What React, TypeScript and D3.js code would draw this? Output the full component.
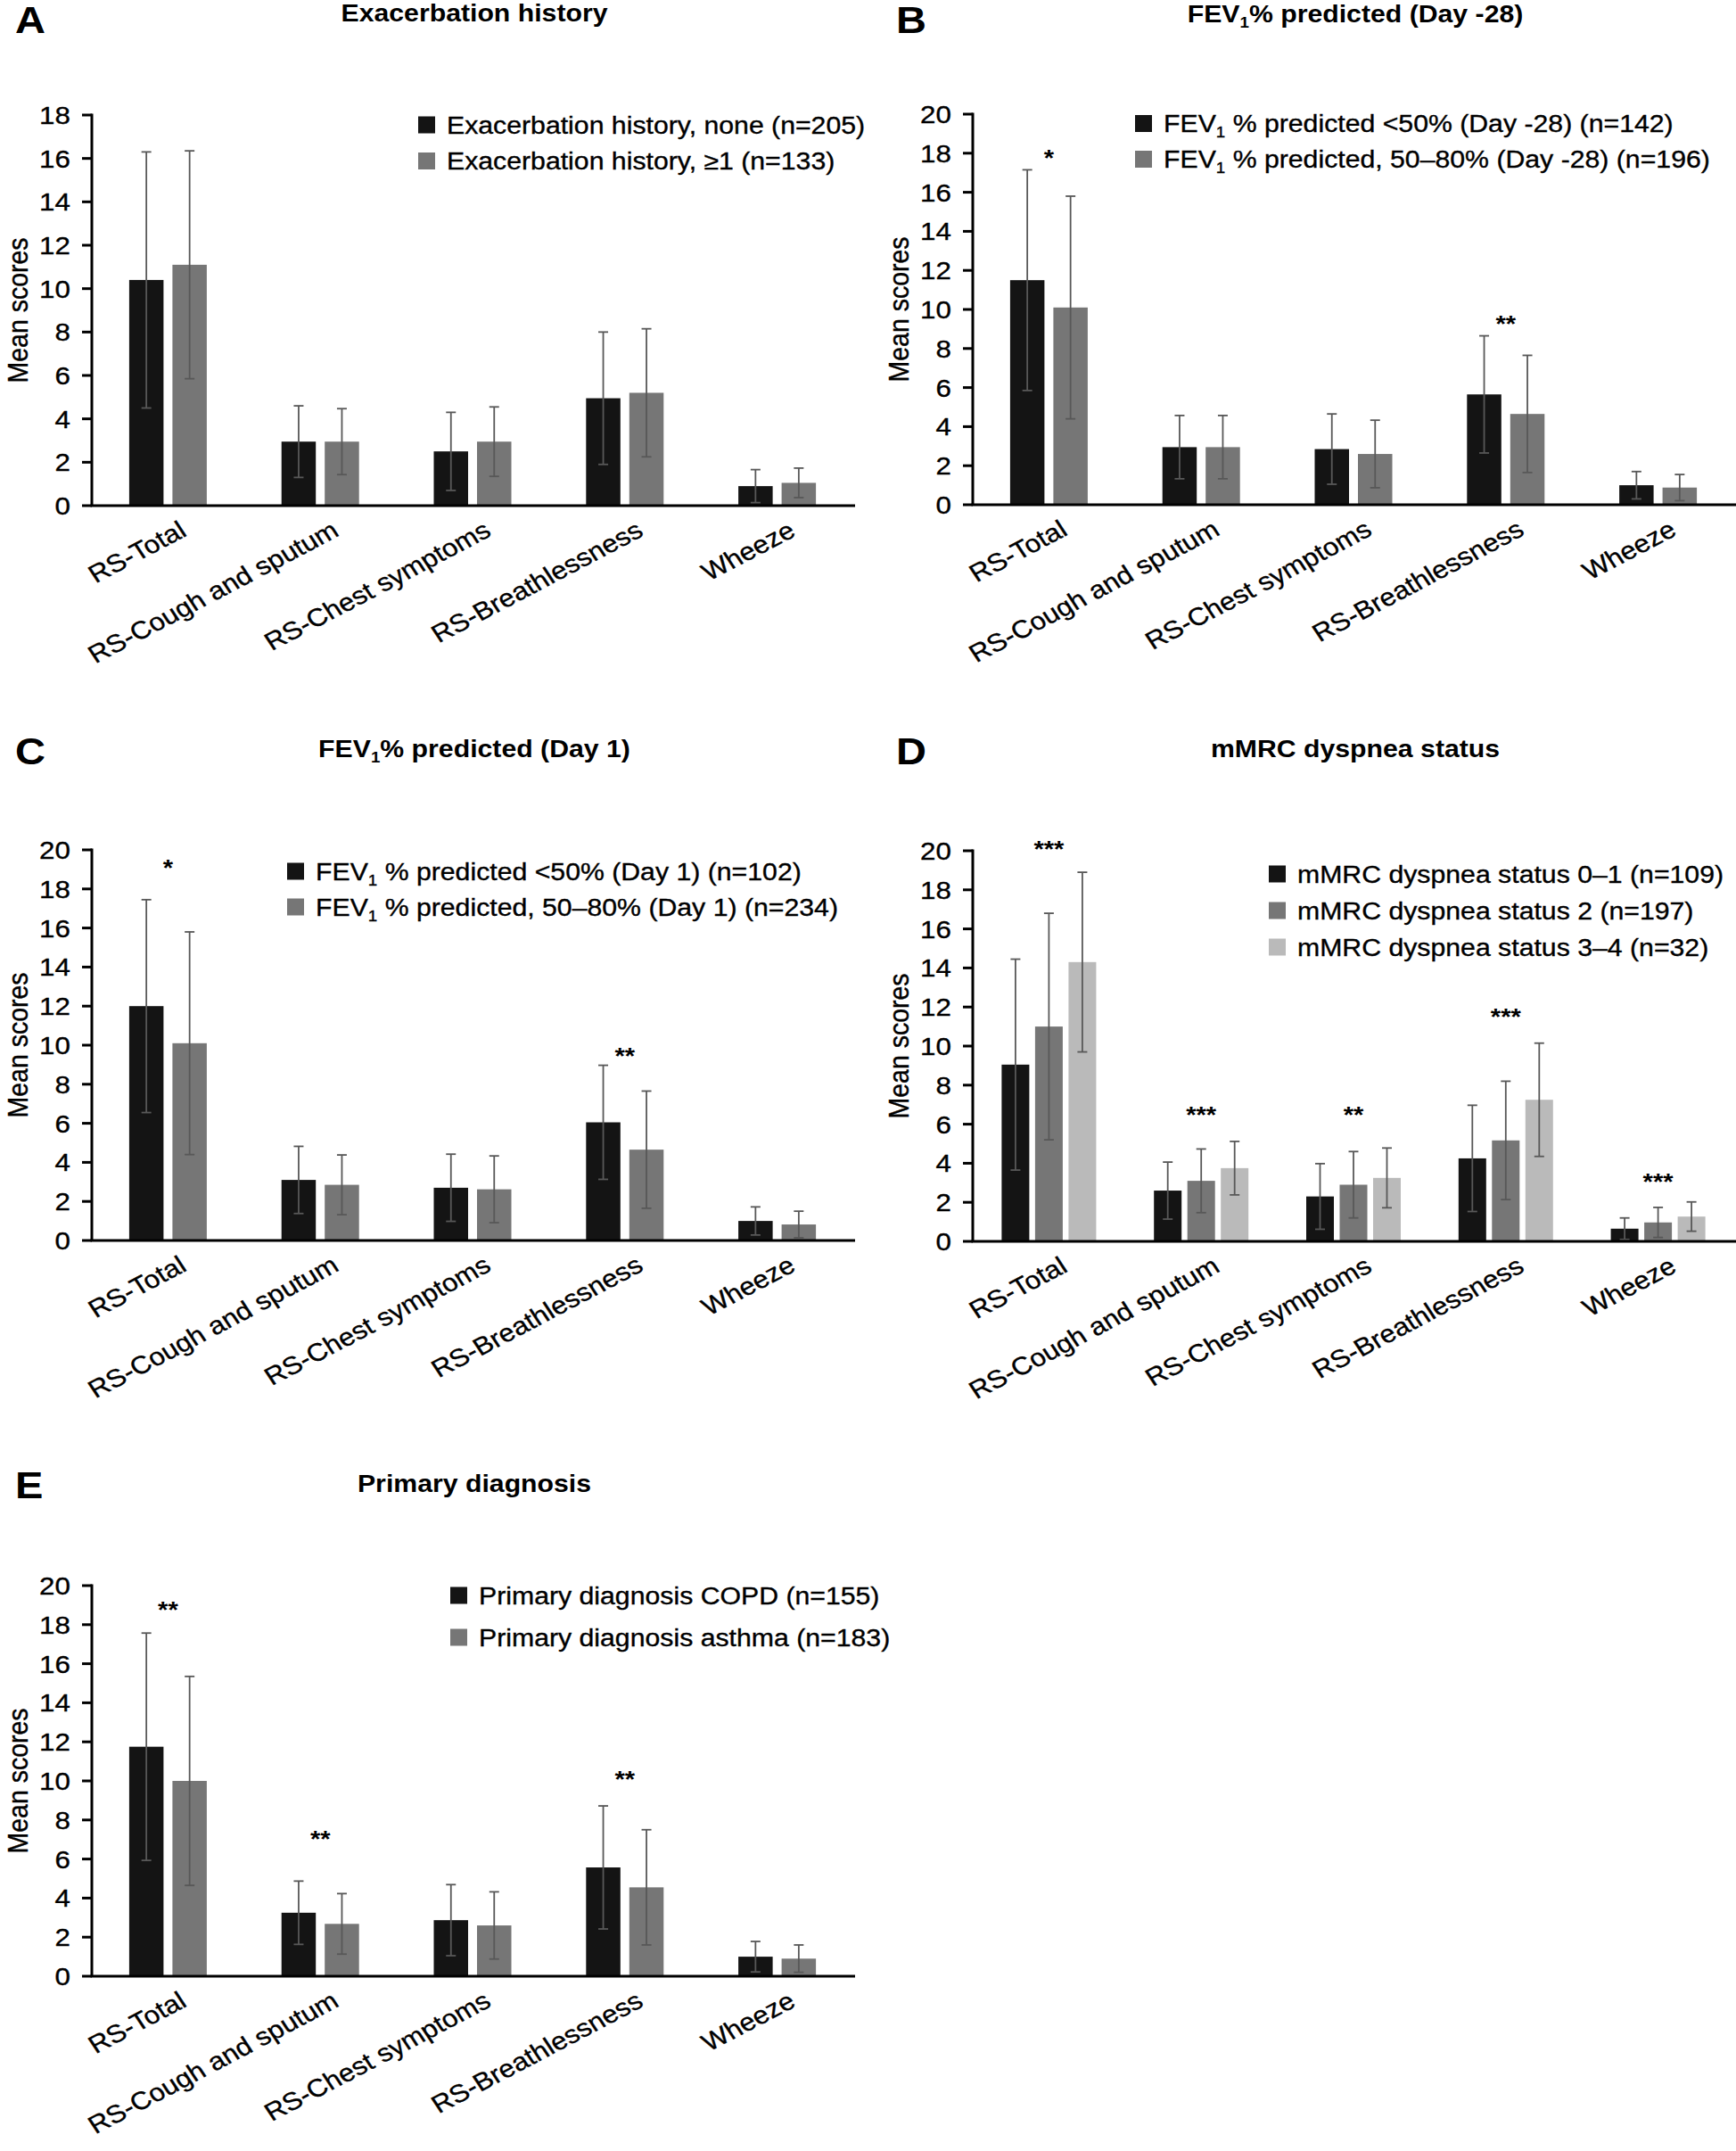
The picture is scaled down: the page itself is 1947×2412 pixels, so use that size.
import React, { useEffect } from 'react'
import * as d3 from 'd3'

const categories = ['RS-Total', 'RS-Cough and sputum', 'RS-Chest symptoms', 'RS-Breathlessness', 'Wheeze']

// A - exacerbation history
const exacNoneMean = [10.4, 2.95, 2.5, 4.95, 0.9]
const exacNoneSd = [5.9, 1.65, 1.8, 3.05, 0.76]
const exacOneMean = [11.1, 2.95, 2.95, 5.2, 1.05]
const exacOneSd = [5.25, 1.52, 1.6, 2.95, 0.68]

// B - FEV1 % predicted (Day -28)
const fevD28LowMean = [11.5, 2.95, 2.85, 5.65, 1.0]
const fevD28LowSd = [5.65, 1.62, 1.8, 3.0, 0.7]
const fevD28MidMean = [10.1, 2.95, 2.6, 4.65, 0.88]
const fevD28MidSd = [5.7, 1.62, 1.73, 3.0, 0.67]
const fevD28Sig = ['*', '', '', '**', '']
const fevD28SigLevel = [18.0, 0, 0, 9.5, 0]

// C - FEV1 % predicted (Day 1)
const fevD1LowMean = [12.0, 3.1, 2.7, 6.05, 1.0]
const fevD1LowSd = [5.45, 1.72, 1.72, 2.92, 0.72]
const fevD1MidMean = [10.1, 2.85, 2.62, 4.65, 0.82]
const fevD1MidSd = [5.7, 1.53, 1.71, 3.0, 0.68]
const fevD1Sig = ['*', '', '', '**', '']
const fevD1SigLevel = [19.3, 0, 0, 9.7, 0]

// D - mMRC dyspnea status
const mmrc01Mean = [9.05, 2.6, 2.3, 4.25, 0.65]
const mmrc01Sd = [5.4, 1.46, 1.68, 2.72, 0.55]
const mmrc2Mean = [11.0, 3.1, 2.9, 5.17, 0.97]
const mmrc2Sd = [5.8, 1.63, 1.7, 3.03, 0.77]
const mmrc34Mean = [14.3, 3.75, 3.25, 7.25, 1.27]
const mmrc34Sd = [4.6, 1.37, 1.53, 2.9, 0.75]
const mmrcSig = ['***', '***', '**', '***', '***']
const mmrcSigLevel = [20.3, 6.73, 6.73, 11.75, 3.27]

// E - primary diagnosis
const copdMean = [11.75, 3.25, 2.87, 5.57, 1.0]
const copdSd = [5.82, 1.62, 1.82, 3.15, 0.78]
const asthmaMean = [10.0, 2.68, 2.6, 4.55, 0.9]
const asthmaSd = [5.35, 1.55, 1.72, 2.95, 0.7]
const diagSig = ['**', '**', '', '**', '']
const diagSigLevel = [19.0, 7.28, 0, 10.3, 0]

const colors = ['#141414', '#767676', '#bababa']

const FONT = "'Liberation Sans', Arial, Helvetica, sans-serif"
const K = 1.12 // horizontal stretch of the source lettering

interface Series { label: string; mean: number[]; sd: number[] }
interface PanelSpec {
  letter: string
  title: string
  yMax: number
  series: Series[]
  sig?: string[]
  sigLevel?: number[]
  x0: number
  yZero: number
  titleY: number
  letterY: number
  legendX: number
  legendY: number
  legendGap: number
}

const panels: PanelSpec[] = [
  {
    letter: 'A', title: 'Exacerbation history', yMax: 18,
    series: [
      { label: 'Exacerbation history, none (n=205)', mean: exacNoneMean, sd: exacNoneSd },
      { label: 'Exacerbation history, \u22651 (n=133)', mean: exacOneMean, sd: exacOneSd },
    ],
    x0: 103, yZero: 567, titleY: 24, letterY: 37, legendX: 469, legendY: 140, legendGap: 40.5,
  },
  {
    letter: 'B', title: 'FEV\u2081% predicted (Day -28)', yMax: 20,
    series: [
      { label: 'FEV\u2081 % predicted <50% (Day -28) (n=142)', mean: fevD28LowMean, sd: fevD28LowSd },
      { label: 'FEV\u2081 % predicted, 50\u201380% (Day -28) (n=196)', mean: fevD28MidMean, sd: fevD28MidSd },
    ],
    sig: fevD28Sig, sigLevel: fevD28SigLevel,
    x0: 1091, yZero: 566, titleY: 25, letterY: 37, legendX: 1273, legendY: 138.5, legendGap: 40,
  },
  {
    letter: 'C', title: 'FEV\u2081% predicted (Day 1)', yMax: 20,
    series: [
      { label: 'FEV\u2081 % predicted <50% (Day 1) (n=102)', mean: fevD1LowMean, sd: fevD1LowSd },
      { label: 'FEV\u2081 % predicted, 50\u201380% (Day 1) (n=234)', mean: fevD1MidMean, sd: fevD1MidSd },
    ],
    sig: fevD1Sig, sigLevel: fevD1SigLevel,
    x0: 103, yZero: 1391, titleY: 849, letterY: 857, legendX: 322, legendY: 977, legendGap: 40,
  },
  {
    letter: 'D', title: 'mMRC dyspnea status', yMax: 20,
    series: [
      { label: 'mMRC dyspnea status 0\u20131 (n=109)', mean: mmrc01Mean, sd: mmrc01Sd },
      { label: 'mMRC dyspnea status 2 (n=197)', mean: mmrc2Mean, sd: mmrc2Sd },
      { label: 'mMRC dyspnea status 3\u20134 (n=32)', mean: mmrc34Mean, sd: mmrc34Sd },
    ],
    sig: mmrcSig, sigLevel: mmrcSigLevel,
    x0: 1091, yZero: 1392, titleY: 849, letterY: 857, legendX: 1423, legendY: 980, legendGap: 41,
  },
  {
    letter: 'E', title: 'Primary diagnosis', yMax: 20,
    series: [
      { label: 'Primary diagnosis COPD (n=155)', mean: copdMean, sd: copdSd },
      { label: 'Primary diagnosis asthma (n=183)', mean: asthmaMean, sd: asthmaSd },
    ],
    sig: diagSig, sigLevel: diagSigLevel,
    x0: 103, yZero: 2216, titleY: 1673, letterY: 1680, legendX: 505, legendY: 1789, legendGap: 47,
  },
]

const PLOT_W = 854
const PLOT_H = 438

const tf = (x: number, y: number, rot = 0) =>
  `translate(${x},${y}) scale(${K},1)` + (rot ? ` rotate(${rot})` : '')

// a thin outline makes the lettering as heavy as in the source
const ink = { fill: '#000', stroke: '#000', strokeWidth: 0.35 }

// renders "₁" as a subscript 1
function Rich({ text, size }: { text: string; size: number }) {
  const parts = text.split('\u2081')
  const out: React.ReactNode[] = []
  parts.forEach((p, i) => {
    if (i > 0) {
      out.push(<tspan key={'s' + i} dy={size * 0.24} fontSize={size * 0.62}>1</tspan>)
      out.push(<tspan key={'p' + i} dy={-size * 0.24} fontSize={size}>{p}</tspan>)
    } else {
      out.push(<tspan key={'p' + i}>{p}</tspan>)
    }
  })
  return <>{out}</>
}

function Panel({ p }: { p: PanelSpec }) {
  const x1 = p.x0 + PLOT_W
  const yTop = p.yZero - PLOT_H
  const x = d3.scaleBand<string>().domain(categories).range([p.x0, x1])
  const y = d3.scaleLinear().domain([0, p.yMax]).range([p.yZero, yTop])
  const n = p.series.length
  const step = n === 3 ? 37.5 : 48.5
  const barW = n === 3 ? 31 : 38.5
  const ticks = d3.range(0, p.yMax + 1, 2)
  const cx = (c: string) => (x(c) as number) + x.bandwidth() / 2
  const off = (i: number) => (i - (n - 1) / 2) * step

  return (
    <g fontFamily={FONT}>
      <text transform={tf(p.x0 - 86, p.letterY)} fontSize={42} fontWeight="bold">{p.letter}</text>
      <text transform={tf(p.x0 + 429, p.titleY)} fontSize={27} fontWeight="bold" textAnchor="middle">
        <Rich text={p.title} size={27} />
      </text>

      {/* bars */}
      {p.series.map((s, i) =>
        categories.map((c, j) => (
          <rect key={`b${i}-${j}`} x={cx(c) + off(i) - barW / 2} y={y(s.mean[j])}
            width={barW} height={p.yZero - y(s.mean[j])} fill={colors[i]} />
        ))
      )}

      {/* error bars (mean ± SD) */}
      {p.series.map((s, i) =>
        categories.map((c, j) => {
          const ex = cx(c) + off(i)
          const hi = y(s.mean[j] + s.sd[j])
          const lo = y(s.mean[j] - s.sd[j])
          return (
            <g key={`e${i}-${j}`} stroke="#585858" strokeWidth={1.8}>
              <line x1={ex} x2={ex} y1={hi} y2={lo} />
              <line x1={ex - 5.5} x2={ex + 5.5} y1={hi} y2={hi} />
              <line x1={ex - 5.5} x2={ex + 5.5} y1={lo} y2={lo} />
            </g>
          )
        })
      )}

      {/* significance marks */}
      {p.sig && p.sig.map((m, j) => m ? (
        <text key={`s${j}`} transform={tf(cx(categories[j]), y(p.sigLevel![j]) + 14)}
          fontSize={26} fontWeight="bold" textAnchor="middle">{m}</text>
      ) : null)}

      {/* y axis */}
      <line x1={p.x0} x2={p.x0} y1={yTop - 1.5} y2={p.yZero} stroke="#000" strokeWidth={3} />
      {ticks.map(t => (
        <g key={`t${t}`}>
          <line x1={p.x0 - 11} x2={p.x0} y1={y(t)} y2={y(t)} stroke="#000" strokeWidth={3} />
          <text transform={tf(p.x0 - 24, y(t) + 10)} fontSize={28} textAnchor="end" {...ink}>{t}</text>
        </g>
      ))}
      <text transform={tf(p.x0 - 72, (yTop + p.yZero) / 2, -90)} fontSize={28.5} textAnchor="middle" {...ink}>Mean scores</text>

      {/* x axis */}
      <line x1={p.x0 - 1.5} x2={x1 + 2} y1={p.yZero} y2={p.yZero} stroke="#000" strokeWidth={3.2} />
      {categories.map(c => (
        <text key={c} transform={tf(cx(c) + 22.5, p.yZero + 33, -30.5)} fontSize={28} textAnchor="end" {...ink}>{c}</text>
      ))}

      {/* legend */}
      {p.series.map((s, i) => {
        const ly = p.legendY + i * p.legendGap
        return (
          <g key={`l${i}`}>
            <rect x={p.legendX} y={ly - 9.5} width={19} height={19} fill={colors[i]} />
            <text transform={tf(p.legendX + 32, ly + 9.5)} fontSize={27} {...ink}>
              <Rich text={s.label} size={27} />
            </text>
          </g>
        )
      })}
    </g>
  )
}

export default function App() {
  useEffect(() => {
    document.body.style.margin = '0'
  }, [])
  return (
    <div style={{ position: 'absolute', left: 0, top: 0 }}>
      <svg width={1947} height={2412} viewBox="0 0 1947 2412" style={{ display: 'block' }}>
        <rect width={1947} height={2412} fill="#fff" />
        {panels.map(p => <Panel key={p.letter} p={p} />)}
      </svg>
    </div>
  )
}
